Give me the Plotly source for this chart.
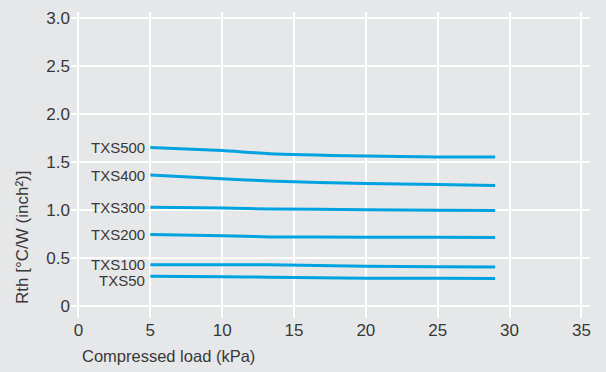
import plotly.graph_objects as go

# ---- data ----
series_names = ["TXS500", "TXS400", "TXS300", "TXS200", "TXS100", "TXS50"]
load_kpa = [5, 10, 13.3, 20, 25, 29]
rth_txs500 = [1.652, 1.620, 1.588, 1.564, 1.554, 1.554]
rth_txs400 = [1.365, 1.328, 1.304, 1.277, 1.267, 1.257]
rth_txs300 = [1.031, 1.022, 1.014, 1.006, 1.001, 0.997]
rth_txs200 = [0.747, 0.735, 0.723, 0.720, 0.718, 0.717]
rth_txs100 = [0.433, 0.433, 0.433, 0.419, 0.413, 0.409]
rth_txs50 = [0.314, 0.309, 0.304, 0.294, 0.292, 0.291]
all_series = [rth_txs500, rth_txs400, rth_txs300, rth_txs200, rth_txs100, rth_txs50]
label_yshift = [0, 0, 0, 0, 0, -4]

x_tickvals = [0, 5, 10, 15, 20, 25, 30, 35]
x_ticktext = ["0", "5", "10", "15", "20", "25", "30", "35"]
y_tickvals = [0, 0.5, 1.0, 1.5, 2.0, 2.5, 3.0]
y_ticktext = ["0", "0.5", "1.0", "1.5", "2.0", "2.5", "3.0"]

BG = "#e6e7e8"
LINE = "#00a3e0"
TXT = "#383838"
FONT = "Liberation Sans, Arial, sans-serif"

fig = go.Figure()
for name, ys in zip(series_names, all_series):
    fig.add_trace(go.Scatter(x=load_kpa, y=ys, mode="lines", name=name,
                             line=dict(color=LINE, width=3, shape="spline", smoothing=0.6),
                             showlegend=False, hoverinfo="skip"))

for name, ys, dy in zip(series_names, all_series, label_yshift):
    fig.add_annotation(x=load_kpa[0], y=ys[0], xref="x", yref="y", text=name,
                       showarrow=False, xanchor="right", yanchor="middle",
                       xshift=-3, yshift=dy,
                       font=dict(family=FONT, size=15, color=TXT))

fig.add_annotation(x=-0.0925, y=0.265, xref="paper", yref="paper",
                   text="Rth [°C/W (inch²)]", textangle=-90, showarrow=False,
                   xanchor="center", yanchor="middle",
                   font=dict(family=FONT, size=17, color=TXT))
fig.add_annotation(x=0.017, y=-0.123, xref="paper", yref="paper",
                   text="Compressed load (kPa)", showarrow=False,
                   xanchor="left", yanchor="middle",
                   font=dict(family=FONT, size=16.5, color=TXT))

fig.update_layout(
    width=606, height=372,
    margin=dict(l=71, r=16, t=9, b=54),
    paper_bgcolor=BG, plot_bgcolor=BG,
    font=dict(family=FONT, size=17, color=TXT),
    xaxis=dict(range=[-0.52, 35.6], tickvals=x_tickvals, ticktext=x_ticktext,
               showgrid=True, gridcolor="white", gridwidth=2,
               zeroline=True, zerolinecolor="white", zerolinewidth=2,
               showline=False, ticks="", tickfont=dict(size=17, color=TXT)),
    yaxis=dict(range=[-0.12, 3.06], tickvals=y_tickvals, ticktext=y_ticktext,
               showgrid=True, gridcolor="white", gridwidth=2,
               zeroline=True, zerolinecolor="white", zerolinewidth=2,
               showline=False, ticks="", tickfont=dict(size=17, color=TXT)),
)

fig.write_html("out.html")
